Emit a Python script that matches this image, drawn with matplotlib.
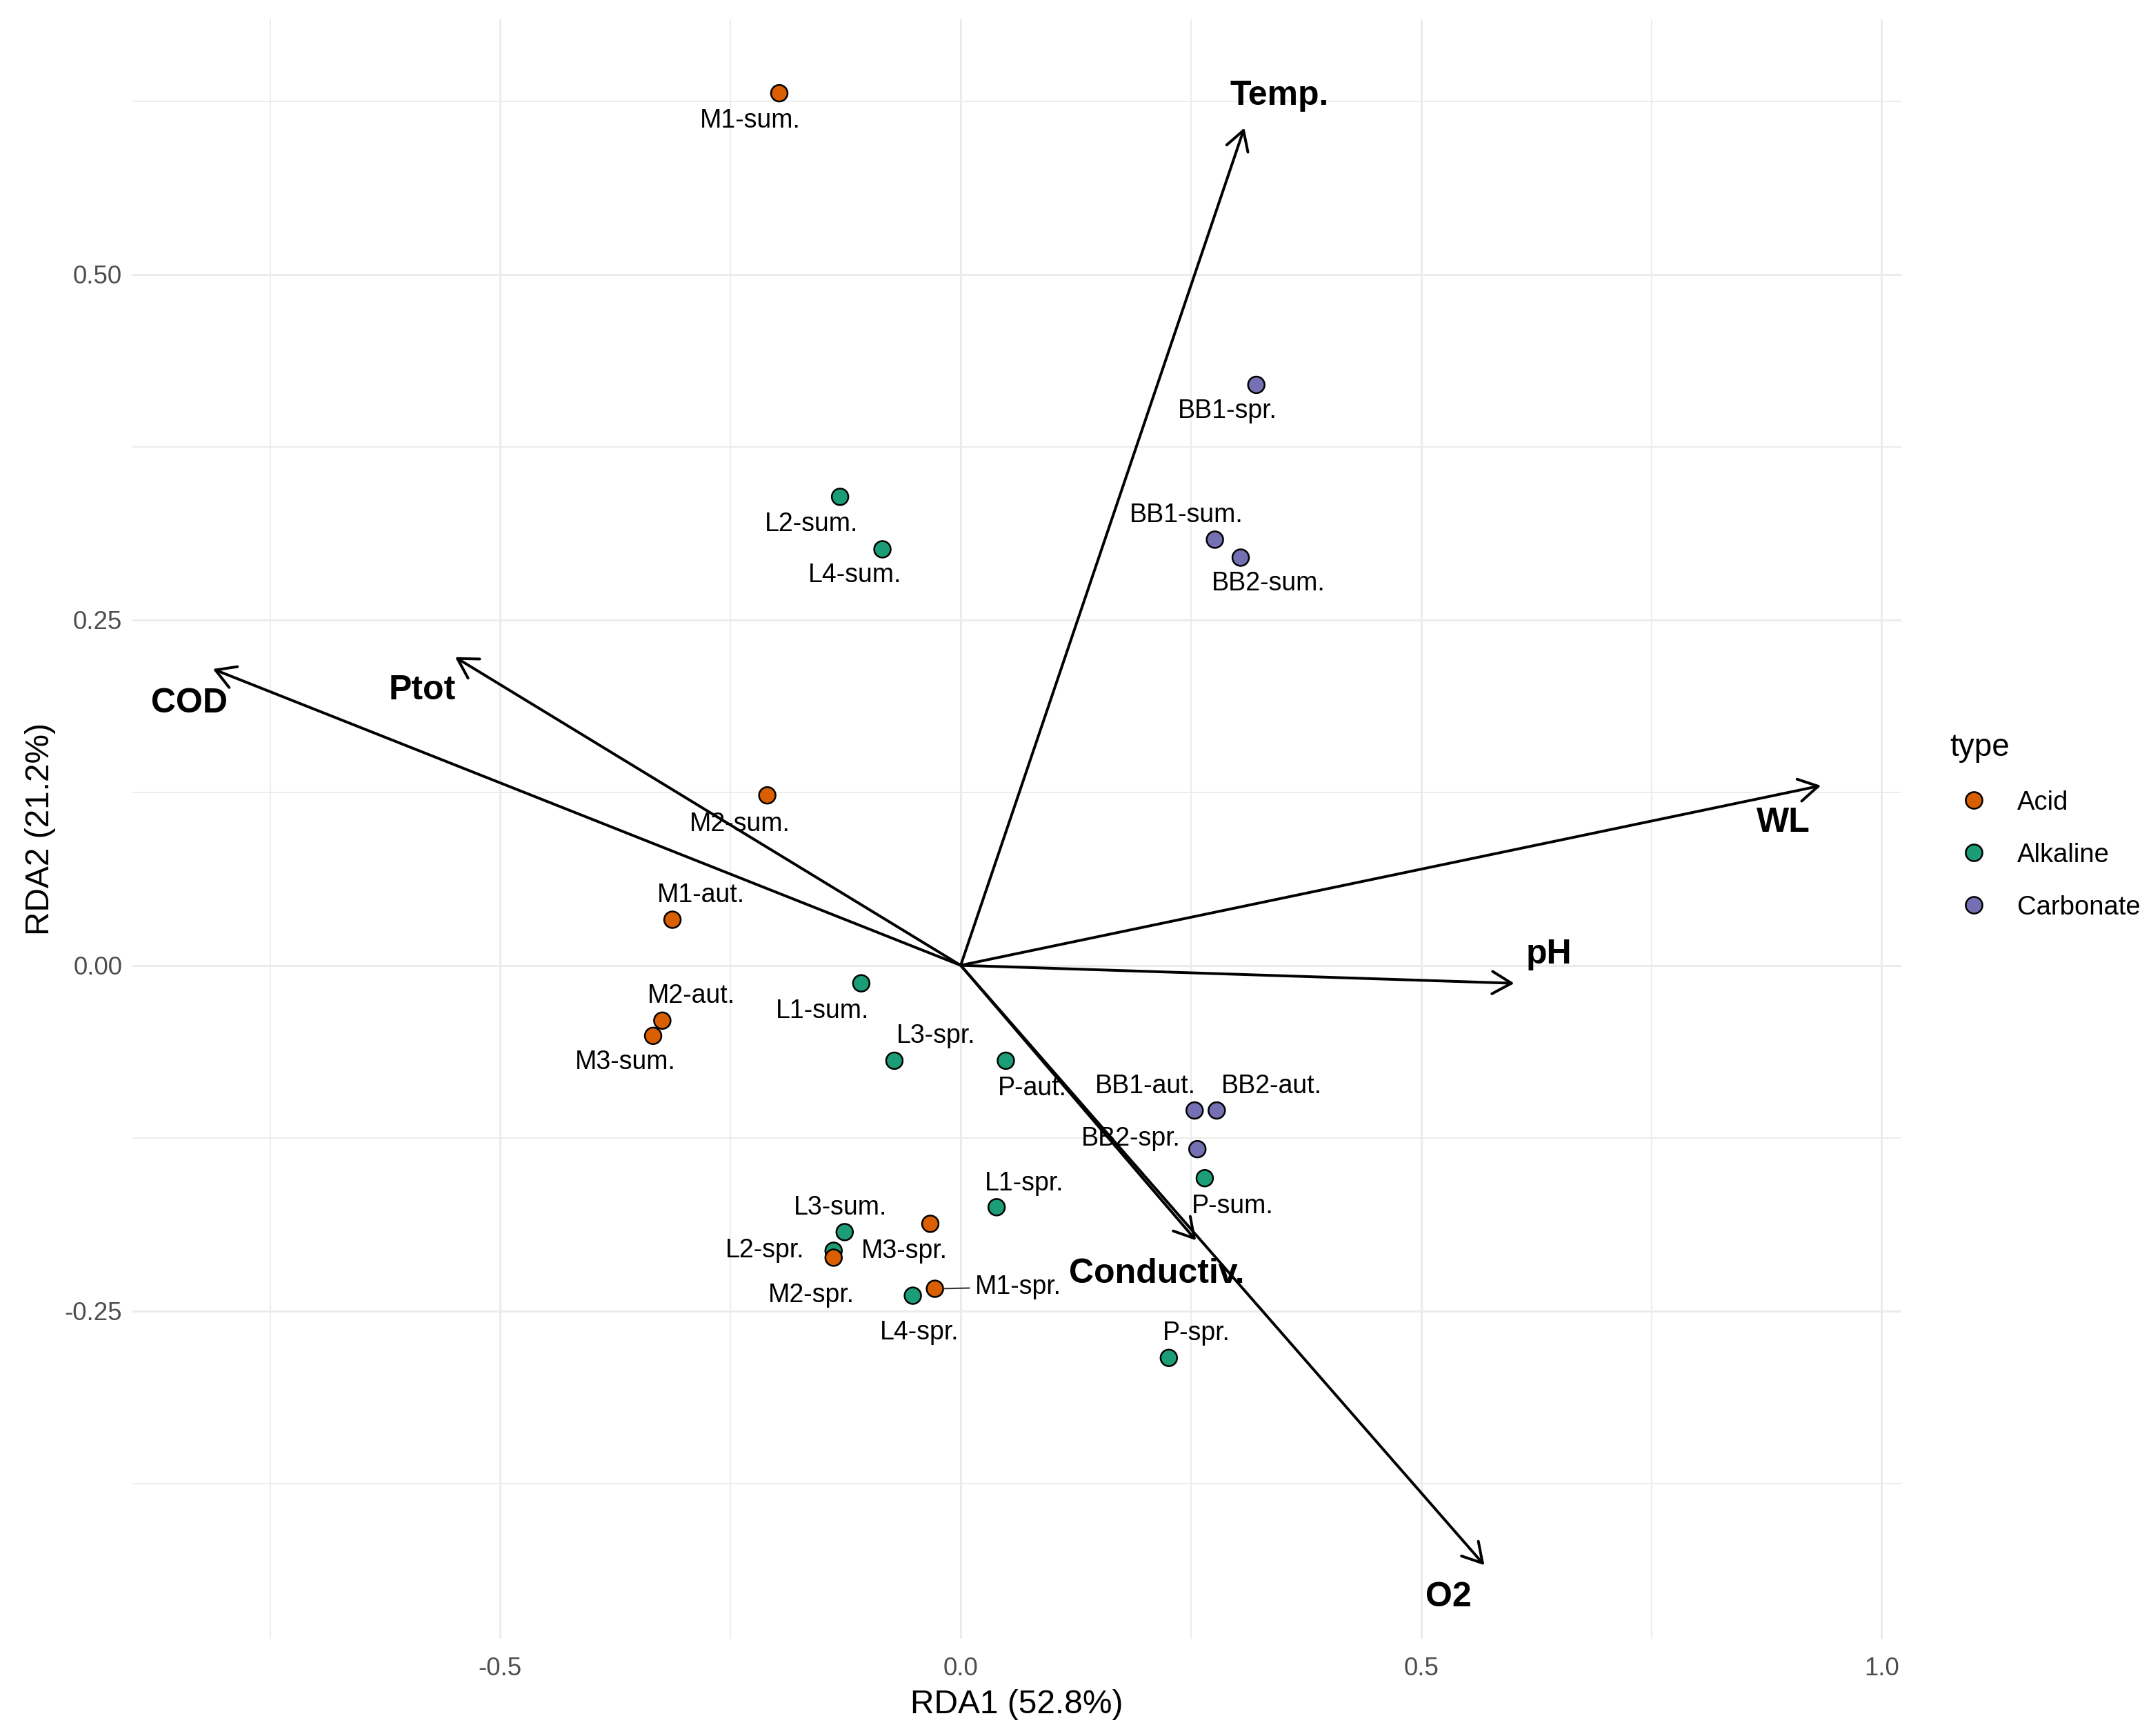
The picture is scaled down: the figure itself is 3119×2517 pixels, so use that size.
import matplotlib.pyplot as plt
from matplotlib.lines import Line2D

plt.rcParams['font.family'] = ['Liberation Sans', 'DejaVu Sans']

# site scores (RDA1, RDA2)
site_names = ['M1-sum.', 'BB1-spr.', 'L2-sum.', 'L4-sum.', 'BB1-sum.', 'BB2-sum.',
              'M2-sum.', 'M1-aut.', 'L1-sum.', 'M2-aut.', 'M3-sum.', 'L3-spr.',
              'P-aut.', 'BB1-aut.', 'BB2-aut.', 'BB2-spr.', 'P-sum.', 'L1-spr.',
              'M3-spr.', 'L3-sum.', 'L2-spr.', 'M2-spr.', 'M1-spr.', 'L4-spr.', 'P-spr.']
site_x = [-0.197, 0.321, -0.131, -0.085, 0.276, 0.304,
          -0.210, -0.313, -0.108, -0.324, -0.334, -0.072,
          0.049, 0.254, 0.278, 0.257, 0.265, 0.039,
          -0.033, -0.126, -0.138, -0.138, -0.028, -0.052, 0.226]
site_y = [0.631, 0.420, 0.339, 0.301, 0.308, 0.295,
          0.123, 0.033, -0.013, -0.040, -0.051, -0.069,
          -0.069, -0.105, -0.105, -0.133, -0.154, -0.175,
          -0.187, -0.193, -0.2065, -0.2115, -0.234, -0.239, -0.284]
site_type = ['Acid', 'Carbonate', 'Alkaline', 'Alkaline', 'Carbonate', 'Carbonate',
             'Acid', 'Acid', 'Alkaline', 'Acid', 'Acid', 'Alkaline',
             'Alkaline', 'Carbonate', 'Carbonate', 'Carbonate', 'Alkaline', 'Alkaline',
             'Acid', 'Alkaline', 'Alkaline', 'Acid', 'Acid', 'Alkaline', 'Alkaline']

# environmental vectors
env_names = ['Temp.', 'COD', 'Ptot', 'WL', 'pH', 'Conductiv.', 'O2']
env_x = [0.308, -0.812, -0.549, 0.934, 0.601, 0.2555, 0.5686]
env_y = [0.606, 0.2144, 0.223, 0.130, -0.013, -0.199, -0.434]

type_levels = ['Acid', 'Alkaline', 'Carbonate']
type_colors = {'Acid': '#D95F02', 'Alkaline': '#1B9E77', 'Carbonate': '#7570B3'}

# hand placed label nudges (points), mimicking the repel layout
site_label_offsets = {
    'M1-sum.': (-10, -9.6), 'BB1-spr.': (-10, -9.1), 'L2-sum.': (-10, -9.6),
    'L4-sum.': (-9.6, -9.1), 'BB1-sum.': (-10, 8.6), 'BB2-sum.': (9.6, -9.1),
    'M2-sum.': (-9.6, -10), 'M1-aut.': (10, 8.6), 'L1-sum.': (-13.4, -9.6),
    'M2-aut.': (10, 8.6), 'M3-sum.': (-9.6, -9.1), 'L3-spr.': (14.4, 8.6),
    'P-aut.': (9.1, -9.6), 'BB1-aut.': (-17.2, 8.5), 'BB2-aut.': (19.2, 8.4),
    'BB2-spr.': (-23.2, 3.6), 'P-sum.': (9.6, -9.8), 'L1-spr.': (9.6, 8.2),
    'M3-spr.': (-9.0, -9.6), 'L3-sum.': (-1.4, 8.5), 'L2-spr.': (-23.8, 0),
    'M2-spr.': (-7.7, -13.2), 'M1-spr.': (29.0, 0.6), 'L4-spr.': (2.3, -12.8),
    'P-spr.': (9.6, 8.6),
}
segment_labels = {'M1-spr.'}
env_label_offsets = {
    'Temp.': (12.2, 11), 'COD': (-8.2, -12), 'Ptot': (-11.5, -11.5),
    'WL': (-13, -13), 'pH': (12, 10), 'Conductiv.': (-13.6, -11.6),
    'O2': (-12.5, -11.2),
}

fig = plt.figure(figsize=(3119 / 300, 2517 / 300), dpi=300)
ax = fig.add_axes([0.0616, 0.056, 0.8839 - 0.0616, 0.9887 - 0.056])

# limits: data range + 5% like ggplot
all_x = site_x + env_x + [0.0]
all_y = site_y + env_y + [0.0]
px = 0.05 * (max(all_x) - min(all_x))
py = 0.05 * (max(all_y) - min(all_y))
ax.set_xlim(min(all_x) - px, max(all_x) + px)
ax.set_ylim(min(all_y) - py, max(all_y) + py)

xt = [-0.5, 0.0, 0.5, 1.0]
yt = [-0.25, 0.0, 0.25, 0.5]
ax.set_xticks(xt)
ax.set_xticklabels([f'{v:.1f}' for v in xt])
ax.set_yticks(yt)
ax.set_yticklabels([f'{v:.2f}' for v in yt])
ax.set_xticks([-0.75, -0.25, 0.25, 0.75], minor=True)
ax.set_yticks([-0.375, -0.125, 0.125, 0.375, 0.625], minor=True)
ax.grid(which='major', color='#EBEBEB', linewidth=0.7)
ax.grid(which='minor', color='#EBEBEB', linewidth=0.45)
ax.set_axisbelow(True)
for s in ax.spines.values():
    s.set_visible(False)
ax.tick_params(which='both', length=0)
ax.tick_params(axis='x', pad=6.2, labelsize=8.8, labelcolor='#4D4D4D')
ax.tick_params(axis='y', pad=3.6, labelsize=8.8, labelcolor='#4D4D4D')

# points
ax.scatter(site_x, site_y, s=33, c=[type_colors[t] for t in site_type],
           edgecolors='black', linewidths=0.6, zorder=3)

for name, x, y in zip(site_names, site_x, site_y):
    dx, dy = site_label_offsets[name]
    props = None
    if name in segment_labels:
        props = dict(arrowstyle='-', lw=0.5, color='#333333', shrinkA=0, shrinkB=3.2)
    ax.annotate(name, (x, y), xytext=(dx, dy), textcoords='offset points',
                ha='center', va='center', fontsize=9, color='black',
                arrowprops=props, zorder=4)

# biplot arrows
for name, x, y in zip(env_names, env_x, env_y):
    ax.annotate('', xy=(x, y), xytext=(0, 0),
                arrowprops=dict(arrowstyle='->,head_length=0.67,head_width=0.39',
                                lw=0.95, color='black', shrinkA=0, shrinkB=0,
                                mutation_scale=10),
                zorder=6)
    dx, dy = env_label_offsets[name]
    ax.annotate(name, (x, y), xytext=(dx, dy), textcoords='offset points',
                ha='center', va='center', fontsize=12, fontweight='bold',
                color='black', zorder=5)

ax.set_xlabel('RDA1 (52.8%)', fontsize=11.5, labelpad=3)
ax.set_ylabel('RDA2 (21.2%)', fontsize=11.5, labelpad=3)

handles = [Line2D([], [], marker='o', linestyle='none', markersize=5.8,
                  markerfacecolor=type_colors[t], markeredgecolor='black',
                  markeredgewidth=0.6, label=t) for t in type_levels]
ax.legend(handles=handles, title='type', loc='upper left',
          bbox_to_anchor=(2827 / 3119, 1 - 1062 / 2517), bbox_transform=fig.transFigure,
          frameon=False, fontsize=9.2, title_fontsize=11, alignment='left',
          borderpad=0, borderaxespad=0, handlelength=1.85, handletextpad=0.7,
          labelspacing=1.04)

fig.savefig('out.png', dpi=300)
